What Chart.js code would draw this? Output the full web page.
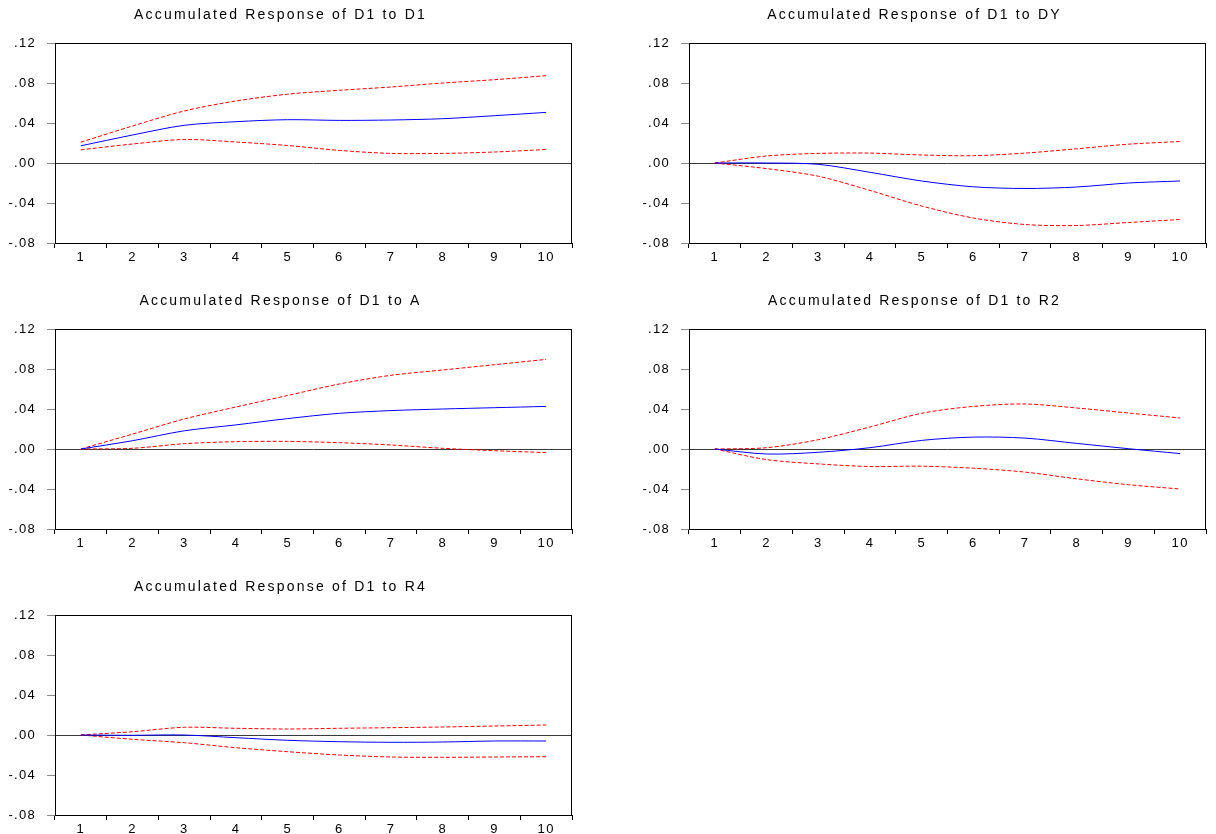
<!DOCTYPE html>
<html>
<head>
<meta charset="utf-8">
<title>Accumulated Responses of D1</title>
<script src="https://cdn.jsdelivr.net/npm/chart.js@4.4.1/dist/chart.umd.min.js"></script>
<style>
  html, body { margin: 0; padding: 0; background: #ffffff; }
  body { width: 1216px; height: 834px; position: relative; overflow: hidden; }
  canvas { position: absolute; }
</style>
</head>
<body>
<canvas id="p1" width="600" height="270" style="left:0px;top:0px;width:600px;height:270px"></canvas>
<canvas id="p2" width="582" height="270" style="left:634px;top:0px;width:582px;height:270px"></canvas>
<canvas id="p3" width="600" height="270" style="left:0px;top:286px;width:600px;height:270px"></canvas>
<canvas id="p4" width="582" height="270" style="left:634px;top:286px;width:582px;height:270px"></canvas>
<canvas id="p5" width="600" height="262" style="left:0px;top:572px;width:600px;height:262px"></canvas>
<script>
// Horizon (periods) and y-axis tick labels
const periods = ['1', '2', '3', '4', '5', '6', '7', '8', '9', '10'];
const yTickLabels = ['-.08', '-.04', '.00', '.04', '.08', '.12'];

// Response of D1 to D1: point estimate and ±2 S.E. band
const d1Resp  = [0.0172, 0.0280, 0.0377, 0.0413, 0.0433, 0.0426, 0.0430, 0.0443, 0.0473, 0.0506];
const d1Upper = [0.0208, 0.0370, 0.0520, 0.0620, 0.0688, 0.0727, 0.0760, 0.0800, 0.0833, 0.0873];
const d1Lower = [0.0132, 0.0190, 0.0235, 0.0210, 0.0175, 0.0126, 0.0096, 0.0096, 0.0110, 0.0135];

// Response of D1 to DY
const dyResp  = [0, 0.0000, -0.0013, -0.0093, -0.0180, -0.0238, -0.0255, -0.0240, -0.0200, -0.0180];
const dyUpper = [0, 0.0070, 0.0096, 0.0099, 0.0080, 0.0073, 0.0099, 0.0142, 0.0188, 0.0215];
const dyLower = [0, -0.0056, -0.0132, -0.0274, -0.0430, -0.0550, -0.0615, -0.0625, -0.0595, -0.0565];

// Response of D1 to A
const aResp  = [0, 0.0083, 0.0182, 0.0241, 0.0304, 0.0357, 0.0384, 0.0400, 0.0413, 0.0426];
const aUpper = [0, 0.0149, 0.0300, 0.0420, 0.0535, 0.0650, 0.0737, 0.0790, 0.0843, 0.0896];
const aLower = [0, 0.0007, 0.0053, 0.0073, 0.0076, 0.0063, 0.0040, 0.0007, -0.0017, -0.0036];

// Response of D1 to R2
const r2Resp  = [0, -0.0050, -0.0033, 0.0013, 0.0086, 0.0119, 0.0109, 0.0056, 0.0003, -0.0046];
const r2Upper = [0, 0.0013, 0.0093, 0.0220, 0.0357, 0.0426, 0.0450, 0.0410, 0.0360, 0.0310];
const r2Lower = [0, -0.0106, -0.0149, -0.0175, -0.0172, -0.0192, -0.0231, -0.0298, -0.0357, -0.0400];

// Response of D1 to R4
const r4Resp  = [0, -0.0003, 0.0000, -0.0027, -0.0053, -0.0067, -0.0073, -0.0070, -0.0060, -0.0060];
const r4Upper = [0, 0.0033, 0.0077, 0.0067, 0.0060, 0.0067, 0.0073, 0.0080, 0.0090, 0.0100];
const r4Lower = [0, -0.0043, -0.0077, -0.0127, -0.0167, -0.0200, -0.0220, -0.0223, -0.0220, -0.0217];

const FONT = '"Liberation Sans", Arial, "DejaVu Sans", sans-serif';

// Spaced-out lettering for tick labels, box frame and the panel heading
const framePlugin = {
  id: 'frame',
  beforeDraw(chart) {
    chart.ctx.letterSpacing = '1.3px';
  },
  afterDatasetsDraw(chart) {
    const { ctx, chartArea: a } = chart;
    ctx.save();
    ctx.letterSpacing = '0px';
    ctx.strokeStyle = '#000000';
    ctx.lineWidth = 1;
    ctx.setLineDash([]);
    ctx.strokeRect(Math.round(a.left) + 0.5, Math.round(a.top) + 0.5,
                   Math.round(a.right - a.left) - 1, Math.round(a.bottom - a.top));
    ctx.restore();
  },
  afterDraw(chart) {
    const { ctx, chartArea: a } = chart;
    const heading = chart.options.plugins.frame.heading;
    ctx.save();
    ctx.letterSpacing = '2.2px';
    ctx.font = '14px ' + FONT;
    ctx.fillStyle = '#000000';
    ctx.textAlign = 'center';
    ctx.textBaseline = 'middle';
    ctx.fillText(heading, (a.left + a.right) / 2 - 33, 15);
    ctx.restore();
    ctx.letterSpacing = '0px';
  }
};

function makePanel(id, heading, resp, upper, lower, rightPad) {
  const ctx = document.getElementById(id);
  return new Chart(ctx, {
    type: 'line',
    data: {
      labels: periods,
      datasets: [
        {
          data: resp,
          borderColor: '#0000ff',
          borderWidth: 1,
          pointRadius: 0,
          tension: 0.3,
          fill: false
        },
        {
          data: upper,
          borderColor: '#ff0000',
          borderWidth: 1,
          borderDash: [4, 2],
          pointRadius: 0,
          tension: 0.3,
          fill: false
        },
        {
          data: lower,
          borderColor: '#ff0000',
          borderWidth: 1,
          borderDash: [4, 2],
          pointRadius: 0,
          tension: 0.3,
          fill: false
        }
      ]
    },
    options: {
      responsive: false,
      animation: false,
      devicePixelRatio: 1,
      layout: { padding: { top: 43, right: rightPad, bottom: 0, left: 0 } },
      plugins: {
        legend: { display: false },
        tooltip: { enabled: false },
        title: { display: false },
        frame: { heading: heading }
      },
      scales: {
        x: {
          type: 'category',
          offset: true,
          border: { display: false },
          grid: {
            offset: true,
            drawOnChartArea: false,
            drawTicks: true,
            tickLength: 5,
            tickColor: '#000000'
          },
          ticks: {
            padding: 2,
            color: '#000000',
            font: { family: FONT, size: 13 },
            maxRotation: 0,
            autoSkip: false
          },
          afterFit(scale) { scale.height = chartHeightBelow(scale); }
        },
        y: {
          min: -0.08,
          max: 0.12,
          border: { display: false },
          grid: {
            drawOnChartArea: true,
            drawTicks: true,
            tickLength: 8,
            tickColor: '#8a8a8a',
            lineWidth: 1,
            color: (c) => (c.tick && Math.abs(c.tick.value) < 1e-9) ? '#3a3a3a' : 'rgba(0,0,0,0)'
          },
          ticks: {
            stepSize: 0.04,
            padding: 11,
            color: '#000000',
            font: { family: FONT, size: 13 },
            callback: (value, index) => yTickLabels[index]
          },
          afterFit(scale) { scale.width = 55; }
        }
      }
    },
    plugins: [framePlugin]
  });
}

// Space reserved under each plot area for the period labels
function chartHeightBelow(scale) {
  return scale.chart.height - 43 - 200;
}

makePanel('p1', 'Accumulated Response of D1 to D1', d1Resp, d1Upper, d1Lower, 28);
makePanel('p2', 'Accumulated Response of D1 to DY', dyResp, dyUpper, dyLower, 10);
makePanel('p3', 'Accumulated Response of D1 to A', aResp, aUpper, aLower, 28);
makePanel('p4', 'Accumulated Response of D1 to R2', r2Resp, r2Upper, r2Lower, 10);
makePanel('p5', 'Accumulated Response of D1 to R4', r4Resp, r4Upper, r4Lower, 28);
</script>
</body>
</html>
